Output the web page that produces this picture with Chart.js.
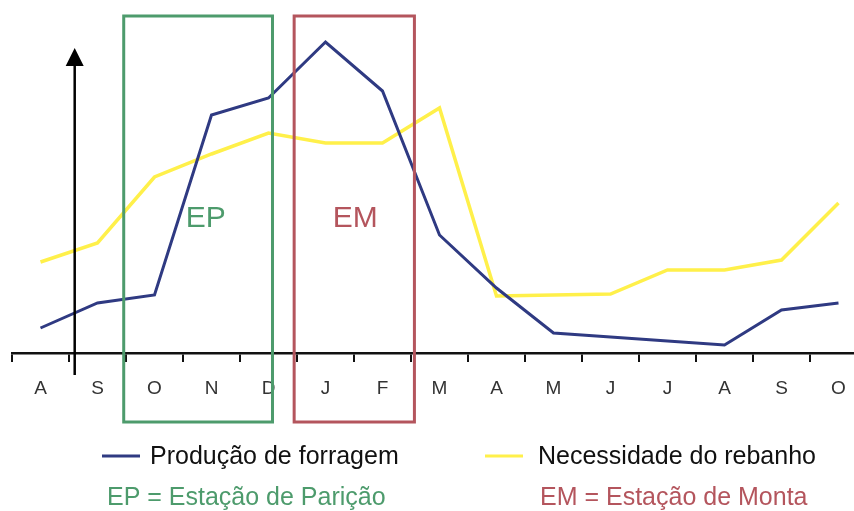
<!DOCTYPE html>
<html>
<head>
<meta charset="utf-8">
<script src="https://cdn.jsdelivr.net/npm/chart.js@4/dist/chart.umd.min.js"></script>
<style>
  html, body { margin: 0; padding: 0; background: #fff; overflow: hidden; }
  #wrap { width: 854px; height: 511px; overflow: hidden; position: relative; }
  canvas { display: block; }
</style>
</head>
<body>
<div id="wrap"><canvas id="graph" width="867" height="511"></canvas></div>
<script>
const meses = ["A", "S", "O", "N", "D", "J", "F", "M", "A", "M", "J", "J", "A", "S", "O"];
const producaoForragem = [25, 50, 58, 238, 255, 311, 262, 118, 65, 20, 16, 12, 8, 43, 50];
const necessidadeRebanho = [91, 110, 176, 199, 220, 210, 210, 245, 57, 58, 59, 83, 83, 93, 150];
const estacoes = [
    { sigla: "EP", nome: "EP = Estação de Parição", cor: "#4d9b6c", inicio: 1.46, fim: 4.07, rotulo: 2.9 },
    { sigla: "EM", nome: "EM = Estação de Monta", cor: "#b4555d", inicio: 4.45, fim: 6.56, rotulo: 5.52 }
];

const corAzul = "#2f3a82";
const corAmarela = "#fff04a";
const fonte = "'Liberation Sans', Arial, sans-serif";

// caixas das estações, seta do eixo y e legendas
const desenhos = {
    id: "desenhos",
    afterDatasetsDraw(chart) {
        const ctx = chart.ctx;
        const x = chart.scales.x;
        const y = chart.scales.y;
        ctx.save();

        // seta vertical
        const xs = x.getPixelForValue(0.6);
        const topo = y.getPixelForValue(305);
        ctx.strokeStyle = "#000";
        ctx.fillStyle = "#000";
        ctx.lineWidth = 2.5;
        ctx.beginPath();
        ctx.moveTo(xs, y.getPixelForValue(-22));
        ctx.lineTo(xs, topo + 10);
        ctx.stroke();
        ctx.beginPath();
        ctx.moveTo(xs, topo);
        ctx.lineTo(xs - 9, topo + 18);
        ctx.lineTo(xs + 9, topo + 18);
        ctx.closePath();
        ctx.fill();

        // caixas
        estacoes.forEach(e => {
            const x0 = x.getPixelForValue(e.inicio);
            const x1 = x.getPixelForValue(e.fim);
            const y0 = y.getPixelForValue(337);
            const y1 = y.getPixelForValue(-69);
            ctx.strokeStyle = e.cor;
            ctx.lineWidth = 3;
            ctx.strokeRect(x0, y0, x1 - x0, y1 - y0);
            ctx.fillStyle = e.cor;
            ctx.font = "30px " + fonte;
            ctx.textAlign = "center";
            ctx.textBaseline = "middle";
            ctx.fillText(e.sigla, x.getPixelForValue(e.rotulo), y.getPixelForValue(134));
        });

        // legenda
        ctx.textAlign = "left";
        ctx.textBaseline = "alphabetic";
        ctx.font = "25px " + fonte;
        const series = [
            { texto: "Produção de forragem", cor: corAzul, x: 102, gap: 48 },
            { texto: "Necessidade do rebanho", cor: corAmarela, x: 485, gap: 53 }
        ];
        series.forEach(s => {
            ctx.strokeStyle = s.cor;
            ctx.lineWidth = 3;
            ctx.beginPath();
            ctx.moveTo(s.x, 456);
            ctx.lineTo(s.x + 38, 456);
            ctx.stroke();
            ctx.fillStyle = "#111";
            ctx.fillText(s.texto, s.x + s.gap, 464);
        });
        ctx.fillStyle = estacoes[0].cor;
        ctx.fillText(estacoes[0].nome, 107, 505);
        ctx.fillStyle = estacoes[1].cor;
        ctx.fillText(estacoes[1].nome, 540, 505);

        ctx.restore();
    }
};

const grafico = new Chart(document.getElementById("graph").getContext("2d"), {
    type: "line",
    data: {
        labels: meses,
        datasets: [{
            label: "Produção de forragem",
            data: producaoForragem,
            borderColor: corAzul,
            borderWidth: 3,
            pointRadius: 0,
            tension: 0,
            fill: false
        }, {
            label: "Necessidade do rebanho",
            data: necessidadeRebanho,
            borderColor: corAmarela,
            borderWidth: 3.5,
            pointRadius: 0,
            tension: 0,
            fill: false
        }]
    },
    options: {
        responsive: false,
        animation: false,
        layout: { padding: { left: 12, right: 0, top: 0, bottom: 0 } },
        plugins: { legend: { display: false }, tooltip: { enabled: false } },
        scales: {
            x: {
                offset: true,
                grid: {
                    offset: true,
                    drawOnChartArea: false,
                    drawTicks: true,
                    tickLength: 9,
                    color: "#111",
                    lineWidth: 2
                },
                border: { display: true, color: "#111", width: 2.5 },
                ticks: {
                    color: "#333",
                    font: { family: fonte, size: 19 },
                    padding: 15,
                    maxRotation: 0,
                    autoSkip: false
                },
                afterFit(scale) { scale.height = 158; }
            },
            y: {
                display: false,
                min: 0,
                max: 353
            }
        }
    },
    plugins: [desenhos]
});
</script>
</body>
</html>
